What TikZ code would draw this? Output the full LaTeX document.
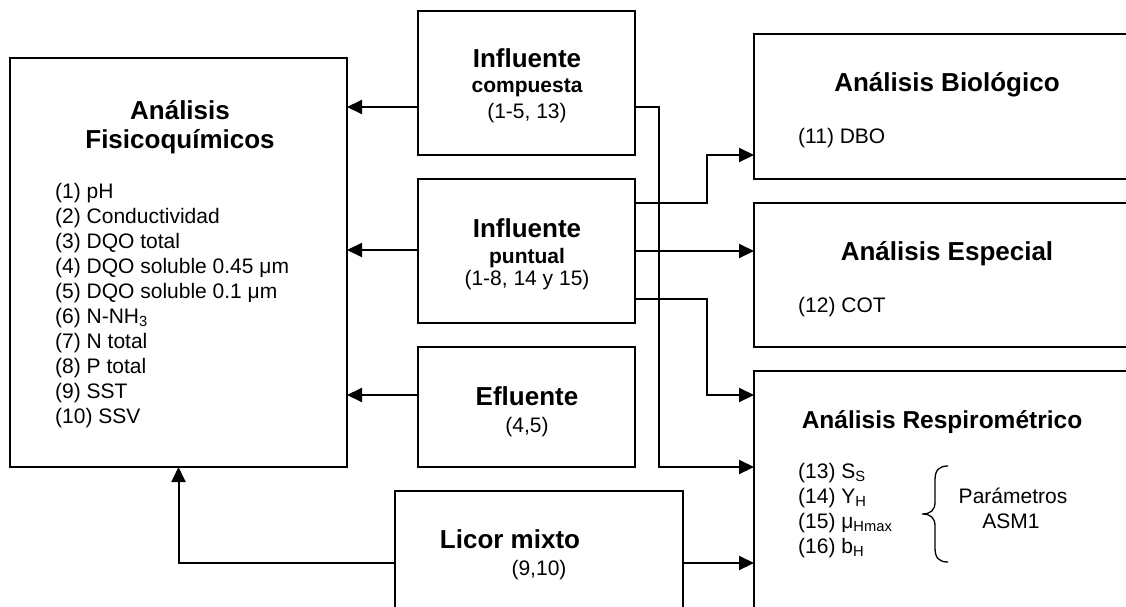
\documentclass[tikz,border=0pt]{standalone}
\usepackage{fontspec}
\setmainfont{Liberation Sans}
\usetikzlibrary{arrows.meta}
\begin{document}
\begin{tikzpicture}[x=1pt,y=-1pt,
  box/.style={draw, line width=2pt, inner sep=0pt, outer sep=0pt, anchor=north west},
  arr/.style={line width=2pt, -{Triangle[length=15pt,width=14pt]}},
  ttl/.style={font=\fontsize{26}{28}\selectfont\bfseries, anchor=base, inner sep=0pt},
  sub/.style={font=\fontsize{21}{25}\selectfont\bfseries, anchor=base, inner sep=0pt},
  txt/.style={font=\fontsize{21}{25}\selectfont, anchor=base, inner sep=0pt},
  lst/.style={font=\fontsize{21}{25}\selectfont, align=left, anchor=north west, inner sep=0pt}]
\clip (0,0) rectangle (1126,607);
% boxes
\node[box, minimum width=337pt, minimum height=409pt] (fis) at (10,58) {};
\node[box, minimum width=217pt, minimum height=144pt] (comp) at (418,11) {};
\node[box, minimum width=217pt, minimum height=144pt] (punt) at (418,179) {};
\node[box, minimum width=217pt, minimum height=120pt] (efl) at (418,347) {};
\node[box, minimum width=288pt, minimum height=160pt] (licor) at (395,491) {};
\node[box, minimum width=400pt, minimum height=145pt] (bio) at (754,34) {};
\node[box, minimum width=400pt, minimum height=144pt] (esp) at (754,203) {};
\node[box, minimum width=400pt, minimum height=280pt] (resp) at (754,371) {};
% texts
\node[ttl] (t1) at (180,120) {Análisis};
\node[ttl] (t2) at (180,148) {Fisicoquímicos};
\node[lst] (l1) at (55,183) {(1) pH\\(2) Conductividad\\(3) DQO total\\(4) DQO soluble 0.45 μm\\(5) DQO soluble 0.1 μm\\(6) N-NH\textsubscript{3}\\(7) N total\\(8) P total\\(9) SST\\(10) SSV};
\node[ttl] (c1) at (527,68) {Influente};
\node[sub] (c2) at (527,93) {compuesta};
\node[txt] (c3) at (527,118) {(1-5, 13)};
\node[ttl] (p1) at (527,237) {Influente};
\node[sub] (p2) at (527,263) {puntual};
\node[txt] (p3) at (527,285) {(1-8, 14 y 15)};
\node[ttl] (e1) at (527,405) {Efluente};
\node[txt] (e2) at (527,432) {(4,5)};
\node[ttl] (m1) at (510,548) {Licor mixto};
\node[txt] (m2) at (539,575) {(9,10)};
\node[ttl] (b1) at (947,92) {Análisis Biológico};
\node[txt, anchor=base west] (b2) at (798,143) {(11) DBO};
\node[ttl] (s1) at (947,260) {Análisis Especial};
\node[txt, anchor=base west] (s2) at (798,312) {(12) COT};
\node[ttl, font=\fontsize{24.5}{28}\selectfont\bfseries] (r1) at (942,428) {Análisis Respirométrico};
\node[lst] (r2) at (798,463) {(13) S\textsubscript{S}\\(14) Y\textsubscript{H}\\(15) μ\textsubscript{Hmax}\\(16) b\textsubscript{H}};
\node[txt] (a1) at (1013,503) {Parámetros};
\node[txt] (a2) at (1011,528) {ASM1};
\draw[line width=1.3pt] (948,466) .. controls (939,466) and (935,470) .. (935,480) -- (935,502) .. controls (935,510) and (931,514) .. (922,514) .. controls (931,514) and (935,518) .. (935,526) -- (935,548) .. controls (935,558) and (939,562) .. (948,562);
% connectors
\draw[arr] (comp.west |- 0,107) -- (fis.east |- 0,107);
\draw[arr] (punt.west |- 0,250) -- (fis.east |- 0,250);
\draw[arr] (efl.west |- 0,395) -- (fis.east |- 0,395);
\draw[arr] (licor.west |- 0,563) -| (fis.south);
\draw[arr] (comp.east |- 0,107) -- (659,107) -- (659,467) -- (resp.west |- 0,467);
\draw[arr] (punt.east |- 0,203) -- (707,203) -- (707,155) -- (bio.west |- 0,155);
\draw[arr] (punt.east |- 0,251) -- (esp.west |- 0,251);
\draw[arr] (punt.east |- 0,299) -- (707,299) -- (707,395) -- (resp.west |- 0,395);
\draw[arr] (licor.east |- 0,563) -- (resp.west |- 0,563);
\end{tikzpicture}
\end{document}
